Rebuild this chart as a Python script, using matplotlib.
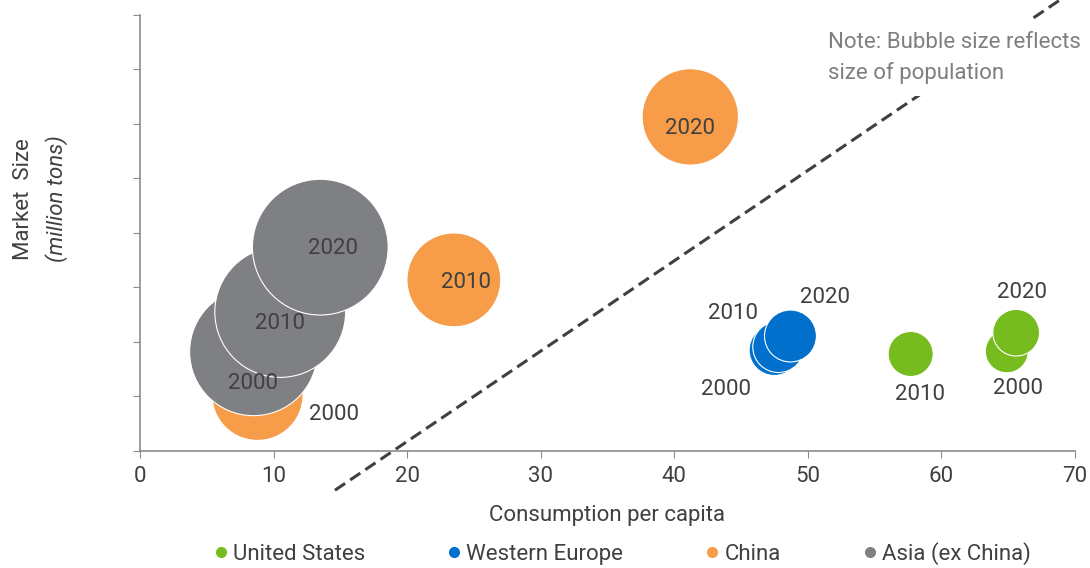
import matplotlib
matplotlib.use("Agg")
import matplotlib.pyplot as plt
from matplotlib.lines import Line2D
from matplotlib import font_manager

# ---------------- data ----------------
years = ["2000", "2010", "2020"]

us_x = [64.9, 57.7, 65.6]
us_y = [18.3, 17.8, 21.7]
us_pop = [282, 309, 331]

we_x = [47.5, 47.8, 48.7]
we_y = [18.5, 19.1, 21.1]
we_pop = [390, 400, 410]

china_x = [8.8, 23.5, 41.2]
china_y = [10.3, 31.4, 61.3]
china_pop = [1263, 1338, 1411]

asia_x = [8.5, 10.5, 13.5]
asia_y = [18.2, 25.5, 37.4]
asia_pop = [2480, 2600, 2800]

trend_x = [14.6, 68.9]
trend_y = [-7.2, 82.8]

series_names = ["United States", "Western Europe", "China", "Asia (ex China)"]
x_ticks = [0, 10, 20, 30, 40, 50, 60, 70]
y_ticks = [0, 10, 20, 30, 40, 50, 60, 70, 80]

# ---------------- style ----------------
names = {f.name for f in font_manager.fontManager.ttflist}
fam = "Liberation Sans Narrow" if "Liberation Sans Narrow" in names else "Roboto"
plt.rcParams["font.family"] = [fam, "DejaVu Sans"]

TXT = "#404040"
AX = "#8C8C8C"
colors = {"United States": "#77BC1F", "Western Europe": "#0070CC",
          "China": "#F79C48", "Asia (ex China)": "#7F8084"}

fig = plt.figure(figsize=(10.9, 5.68), dpi=100)
ax = fig.add_axes([0.1284, 0.206, 0.8578, 0.7676])

K = 3.41  # area scale (pt^2 per population unit)

# label offsets (points) relative to bubble centres
off = {
    "United States": [(8, -27), (7, -29), (4, 29)],
    "Western Europe": [(-35, -28), (-33, 24), (25, 28)],
    "China": [(55, -14), (9, -2), (0, -8)],
    "Asia (ex China)": [(0, -23), (0, -8), (9, -1)],
}

order = [("China", china_x, china_y, china_pop),
         ("Asia (ex China)", asia_x, asia_y, asia_pop),
         ("Western Europe", we_x, we_y, we_pop),
         ("United States", us_x, us_y, us_pop)]

for name, xs, ys, ps in order:
    ax.scatter(xs, ys, s=[p * K for p in ps], color=colors[name],
               edgecolors="white", linewidths=0.8, zorder=3, clip_on=False)

for name, xs, ys, ps in order:
    for i, yr in enumerate(years):
        dx, dy = off[name][i]
        ax.annotate(yr, (xs[i], ys[i]), xytext=(dx, dy), textcoords="offset points",
                    ha="center", va="center", fontsize=16, color=TXT, zorder=5)

ax.plot(trend_x, trend_y, linestyle=(0, (4, 2)), color="#404040", lw=2.2,
        clip_on=False, zorder=2)

ax.set_xlim(0, 70)
ax.set_ylim(0, 80)
ax.set_xticks(x_ticks)
ax.set_yticks(y_ticks)
ax.set_yticklabels([])
ax.tick_params(axis="x", direction="out", length=5, color=AX, labelsize=16,
               labelcolor=TXT, pad=6)
ax.tick_params(axis="y", direction="out", length=5, color=AX)
for s in ["top", "right"]:
    ax.spines[s].set_visible(False)
for s in ["left", "bottom"]:
    ax.spines[s].set_color(AX)
    ax.spines[s].set_linewidth(1.2)

ax.set_xlabel("Consumption per capita", fontsize=16, color=TXT, labelpad=13)

fig.text(0.022, 0.65, "Market  Size", rotation=90, ha="center", va="center",
         fontsize=16, color=TXT)
fig.text(0.052, 0.65, "(million tons)", rotation=90, ha="center", va="center",
         fontsize=16, color=TXT, style="italic")

fig.text(0.760, 0.943, "Note: Bubble size reflects\nsize of population",
         ha="left", va="top", fontsize=16, color="#7F7F7F", linespacing=1.5,
         zorder=10,
         bbox=dict(facecolor="white", edgecolor="none", pad=9))

handles = [Line2D([], [], marker="o", linestyle="none", markersize=8,
                  markerfacecolor=colors[n], markeredgecolor="none")
           for n in series_names]
fig.legend(handles, series_names, loc="center", bbox_to_anchor=(0.569, 0.025),
           ncol=4, frameon=False, fontsize=16, labelcolor=TXT,
           handletextpad=0.05, columnspacing=3.5, handlelength=1.0)

fig.savefig("out.png", dpi=100)
